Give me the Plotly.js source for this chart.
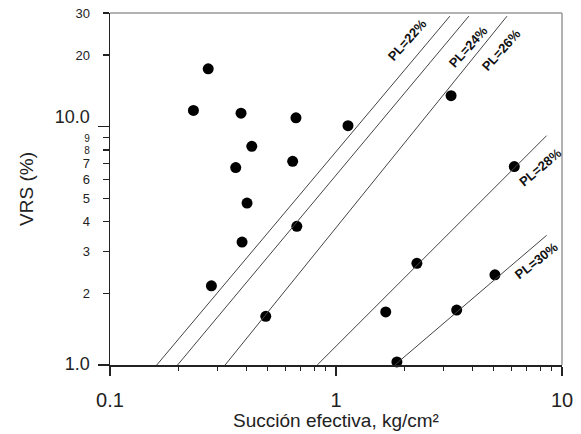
<!DOCTYPE html>
<html>
<head>
<meta charset="utf-8">
<script src="https://cdn.plot.ly/plotly-3.0.1.min.js"></script>
<style>html,body{margin:0;padding:0;background:#fff;}#chart{width:581px;height:434px;}</style>
</head>
<body>
<div id="chart"></div>
<script>
// ---- data ----
const succion = [0.272, 0.234, 0.380, 0.665, 1.13, 0.424, 0.360, 0.643, 0.404, 0.384, 0.671, 0.281, 0.489, 3.23, 6.15, 2.28, 1.66, 5.05, 3.42, 1.86];
const vrs     = [17.5, 11.7, 11.4, 10.9, 10.1, 8.27, 6.74, 7.16, 4.78, 3.28, 3.82, 2.15, 1.60, 13.5, 6.80, 2.67, 1.67, 2.39, 1.70, 1.03];

const plLabels = ['PL=22%', 'PL=24%', 'PL=26%', 'PL=28%', 'PL=30%'];
const lineX0 = [0.161, 0.199, 0.323, 0.826, 1.82];
const lineY0 = [1, 1, 1, 1, 1];
const lineX1 = [3.19, 3.87, 5.71, 8.55, 8.55];
const lineY1 = [29.1, 29.1, 29.1, 9.17, 3.50];

const xTickVals = [0.1, 1, 10];
const xTickText = ['0.1', '1', '10'];
const xMinorVals = [0.2, 0.3, 0.4, 0.5, 0.6, 0.7, 0.8, 0.9, 2, 3, 4, 5, 6, 7, 8, 9];
const yTickVals = [1, 2, 3, 4, 5, 6, 7, 8, 9, 10, 20, 30];
const yTickText = ['1.0', '2', '3', '4', '5', '6', '7', '8', '9', '10.0', '20', '30'];
const yMajorVals = [1, 10];

// label placement / style (layout only)
const labelPos = [
  {x: 0.3175, y: 1.365, a: -48},
  {x: 0.587,  y: 1.336, a: -48},
  {x: 0.7342, y: 1.323, a: -48},
  {x: 0.9027, y: 0.8297, a: -40},
  {x: 0.8881, y: 0.4393, a: -38}
];

function styleTick(t) {
  if (t === '10.0') return '<span style="font-size:18px">' + t + '</span><br><span style="font-size:6px"> </span>';
  if (t === '1.0') return '<span style="font-size:18px">' + t + '</span>';
  if (t === '9' || t === '8') return '<span style="font-size:10px">' + t + '</span>';
  return t;
}
const yText = yTickText.map(styleTick);

const traces = [];
plLabels.forEach((name, i) => {
  traces.push({
    type: 'scatter', mode: 'lines',
    x: [lineX0[i], lineX1[i]], y: [lineY0[i], lineY1[i]],
    xaxis: 'x', yaxis: 'y2',
    line: {color: '#444', width: 1},
    hoverinfo: 'skip', showlegend: false, name: name
  });
});
traces.push({
  type: 'scatter', mode: 'markers',
  x: succion, y: vrs,
  marker: {color: '#000', size: 11},
  cliponaxis: false, showlegend: false
});

const yRange = [0, Math.log10(30)];
const font = 'Liberation Sans, Arial, sans-serif';

const layout = {
  width: 581, height: 434,
  margin: {l: 110, r: 19, t: 13, b: 69},
  paper_bgcolor: '#fff', plot_bgcolor: '#fff',
  showlegend: false,
  font: {family: font, color: '#222'},
  xaxis: {
    type: 'log', range: [-1, 1],
    tickmode: 'array', tickvals: xTickVals, ticktext: xTickText,
    ticks: 'outside', ticklen: 9, tickwidth: 1.5, tickcolor: '#222',
    tickfont: {size: 20, family: font, color: '#222'},
    ticklabelstandoff: 7,
    minor: {tickmode: 'array', tickvals: xMinorVals, ticks: 'outside', ticklen: 4, tickwidth: 1, tickcolor: '#222', showgrid: false},
    showline: true, linecolor: '#222', linewidth: 1.5,
    showgrid: false, zeroline: false,
    title: {text: 'Succión efectiva, kg/cm²', font: {size: 19, family: font, color: '#222'}, standoff: 2}
  },
  yaxis: {
    type: 'log', range: yRange,
    tickmode: 'array', tickvals: yTickVals, ticktext: yText,
    ticks: 'outside', ticklen: 6, tickwidth: 1.5, tickcolor: '#222',
    tickfont: {size: 13, family: font, color: '#222'},
    ticklabelstandoff: 10,
    showline: true, linecolor: '#222', linewidth: 1.5,
    showgrid: false, zeroline: false,
    title: {text: 'VRS (%)', font: {size: 19, family: font, color: '#222'}, standoff: 16}
  },
  yaxis2: {
    type: 'log', range: yRange, overlaying: 'y', side: 'left',
    tickmode: 'array', tickvals: yMajorVals,
    ticks: 'outside', ticklen: 11, tickwidth: 1.5, tickcolor: '#222',
    showticklabels: false, showline: false, showgrid: false, zeroline: false
  },
  shapes: [
    {type: 'line', xref: 'paper', yref: 'paper', x0: 0, x1: 1, y0: 1, y1: 1, line: {color: '#999', width: 1.5}},
    {type: 'line', xref: 'paper', yref: 'paper', x0: 1, x1: 1, y0: 0, y1: 1, line: {color: '#999', width: 1.5}}
  ],
  annotations: plLabels.map((t, i) => ({
    text: '<b>' + t + '</b>', x: labelPos[i].x, y: labelPos[i].y, xref: 'x', yref: 'y',
    showarrow: false, textangle: labelPos[i].a,
    font: {size: 13, family: font, color: '#111'}
  }))
};

Plotly.newPlot('chart', traces, layout, {displayModeBar: false, staticPlot: true});
</script>
</body>
</html>
